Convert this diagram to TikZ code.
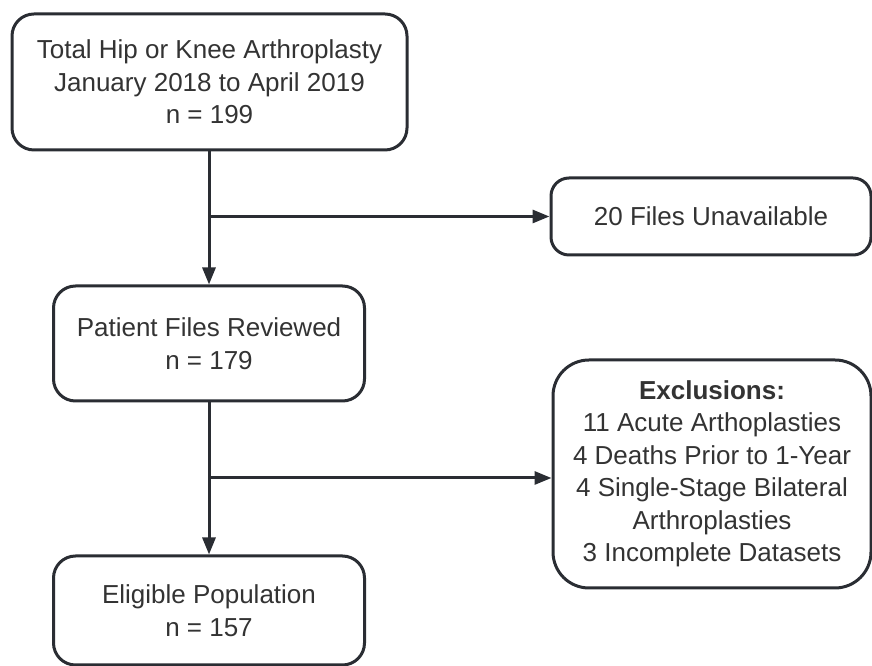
\documentclass[tikz,border=0pt]{standalone}
\usepackage{fontspec}
\setmainfont{Liberation Sans}
\usetikzlibrary{arrows.meta}
\definecolor{lc}{HTML}{2A2D33}
\definecolor{tc}{HTML}{333333}
\begin{document}
\begin{tikzpicture}[x=1pt,y=1pt,
  flowbox/.style={draw=lc, line width=3pt, fill=white, rectangle, align=center,
    text=tc, font=\fontsize{26}{32.5}\selectfont, inner sep=0pt},
  conn/.style={draw=lc, line width=3pt, -{Triangle[length=17pt,width=13pt]}},
  plain/.style={draw=lc, line width=3pt}]
\useasboundingbox (0,0) rectangle (872,666);
\node[flowbox, minimum width=395pt, minimum height=136pt, rounded corners=22pt] (b1) at (209.5,584)
  {Total Hip or Knee Arthroplasty\\January 2018 to April 2019\\n = 199};
\node[flowbox, minimum width=320pt, minimum height=77pt, rounded corners=18pt] (b2) at (711,449.5)
  {20 Files Unavailable};
\node[flowbox, minimum width=311pt, minimum height=115pt, rounded corners=22pt] (b3) at (209,322.5)
  {Patient Files Reviewed\\n = 179};
\node[flowbox, minimum width=318pt, minimum height=228pt, rounded corners=36pt] (b4) at (712,192)
  {\textbf{Exclusions:}\\11 Acute Arthoplasties\\4 Deaths Prior to 1-Year\\4 Single-Stage Bilateral\\Arthroplasties\\3 Incomplete Datasets};
\node[flowbox, minimum width=311pt, minimum height=109pt, rounded corners=22pt] (b5) at (209,55.5)
  {Eligible Population\\n = 157};
\coordinate (j1) at (209,449.5);
\coordinate (j2) at (209,188);
\draw[conn] (j1 |- b1.south) -- (b3.north);
\draw[conn] (j1) -- (b2.west);
\draw[conn] (b3.south) -- (b5.north);
\draw[conn] (j2) -- (j2 -| b4.west);
\end{tikzpicture}
\end{document}
